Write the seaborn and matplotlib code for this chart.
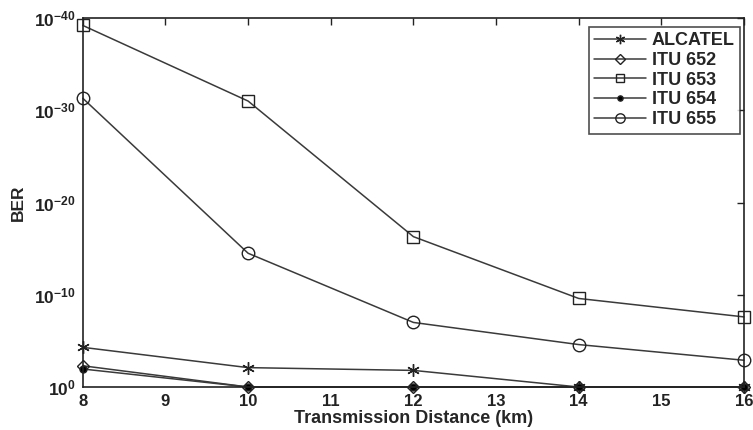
import numpy as np
import pandas as pd
import seaborn as sns
import matplotlib
matplotlib.use("Agg")
import matplotlib.pyplot as plt

# Transmission distance (km) and BER exponents (BER = 10^-value)
distance = [8, 10, 12, 14, 16]
alcatel = [4.3, 2.1, 1.8, 0.0, 0.0]
itu652 = [2.3, 0.0, 0.0, 0.0, 0.0]
itu653 = [39.2, 31.0, 16.3, 9.6, 7.6]
itu654 = [1.95, 0.0, 0.0, 0.0, 0.0]
itu655 = [31.3, 14.5, 7.0, 4.6, 2.9]

series_names = ["ALCATEL", "ITU 652", "ITU 653", "ITU 654", "ITU 655"]
series_values = [alcatel, itu652, itu653, itu654, itu655]
y_ticks = [0, 10, 20, 30, 40]
x_ticks = [8, 9, 10, 11, 12, 13, 14, 15, 16]

sns.set_style("white")
plt.rcParams["font.family"] = ["Liberation Sans", "DejaVu Sans"]
plt.rcParams["font.weight"] = "bold"
plt.rcParams["mathtext.fontset"] = "custom"
plt.rcParams["mathtext.rm"] = "Liberation Sans:bold"
plt.rcParams["mathtext.bf"] = "Liberation Sans:bold"

df = pd.DataFrame({
    "distance": np.tile(distance, len(series_names)),
    "ber": np.concatenate(series_values),
    "series": np.repeat(series_names, len(distance)),
})

fig = plt.figure(figsize=(7.53, 4.30), dpi=100)
ax = fig.add_axes([0.110, 0.100, 0.878, 0.858])

styles = {
    "ALCATEL": dict(marker=(6, 2, 0), ms=9, mfc="none"),
    "ITU 652": dict(marker="D", ms=6.5, mfc="none"),
    "ITU 653": dict(marker="s", ms=8.5, mfc="none"),
    "ITU 654": dict(marker="o", ms=5, mfc="black"),
    "ITU 655": dict(marker="o", ms=9, mfc="none"),
}
line_color = "#3a3a3a"

for name in series_names:
    sub = df[df["series"] == name]
    st = styles[name]
    sns.lineplot(data=sub, x="distance", y="ber", ax=ax, color=line_color,
                 label=name, lw=1.1, marker=st["marker"], markersize=st["ms"],
                 markerfacecolor=st["mfc"], markeredgecolor="#222222",
                 markeredgewidth=1.0, clip_on=False)

for ln in ax.lines:
    ln.set_clip_on(False)

ax.set_xlim(8, 16)
ax.set_ylim(0, 40)
ax.set_xticks(x_ticks)
ax.set_xticklabels([str(v) for v in x_ticks], fontsize=12, fontweight="bold")
ax.set_yticks(y_ticks)
ax.set_yticklabels([r"$\mathbf{10^{0}}$" if v == 0 else r"$\mathbf{10^{-%d}}$" % v
                    for v in y_ticks], fontsize=12.5)
ax.tick_params(direction="in", top=True, right=True, length=5, width=1,
               colors="#222222", pad=5)
for sp in ax.spines.values():
    sp.set_color("#222222")
    sp.set_linewidth(1.2)
    sp.set_visible(True)

ax.set_xlabel("Transmission Distance (km)", fontsize=13, fontweight="bold", labelpad=1)
ax.set_ylabel("BER", fontsize=12.5, fontweight="bold", labelpad=6)

leg = ax.legend(loc="upper right", bbox_to_anchor=(0.994, 0.976), borderaxespad=0,
                frameon=True, fancybox=False, edgecolor="#222222", fontsize=13,
                handlelength=2.9, labelspacing=0.15, borderpad=0.3,
                handletextpad=0.3, markerscale=0.75)
leg.get_frame().set_linewidth(1.2)
for t in leg.get_texts():
    t.set_fontweight("bold")

fig.savefig("out.png", dpi=100)
